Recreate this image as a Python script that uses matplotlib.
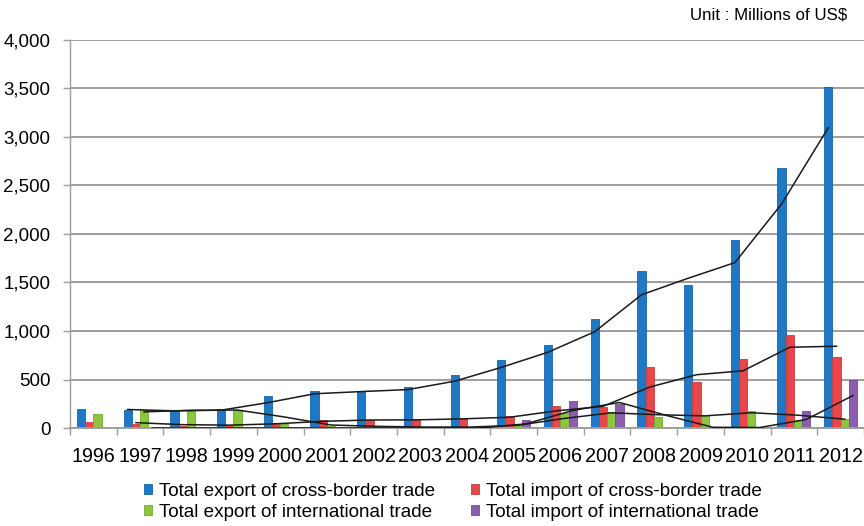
import matplotlib
matplotlib.use("Agg")
import matplotlib.pyplot as plt
from matplotlib.ticker import FuncFormatter, FixedLocator
import numpy as np
import pandas as pd

plt.rcParams['font.family'] = ['Liberation Sans', 'DejaVu Sans']

years = ['1996', '1997', '1998', '1999', '2000', '2001', '2002', '2003', '2004',
         '2005', '2006', '2007', '2008', '2009', '2010', '2011', '2012']

export_cross_border = [200, 182, 172, 196, 327, 379, 372, 420, 545,
                       705, 858, 1128, 1618, 1470, 1940, 2680, 3512]
import_cross_border = [65, 45, 24, 35, 52, 86, 79, 89, 100,
                       122, 231, 216, 628, 470, 710, 955, 731]
export_international = [148, 185, 180, 190, 38, 24, 10, 10, 10,
                        46, 152, 161, 113, 137, 178, 86, 96]
import_international = [0, 0, 0, 0, 0, 0, 0, 0, 0,
                        86, 275, 251, 10, 5, 5, 171, 498]

labels = ['Total export of cross-border trade',
          'Total import of cross-border trade',
          'Total export of international trade',
          'Total import of international trade']
series = [export_cross_border, import_cross_border,
          export_international, import_international]
colors = ['#1f78c4', '#e8464b', '#8cc63f', '#8c5fae']
edges = ['#1a64a6', '#c83a3e', '#73a834', '#744c92']

fig = plt.figure(figsize=(8.64, 5.26), dpi=100)
ax = fig.add_axes([0.081, 0.1863, 0.919, 0.7377])

x = np.arange(len(years))
bar_w = 0.176
handles = []
for i, (vals, c, ec, lab) in enumerate(zip(series, colors, edges, labels)):
    pos = x + (i - 1.5) * bar_w
    h = ax.bar(pos, vals, width=bar_w, color=c, edgecolor=ec, linewidth=0.6,
               label=lab, zorder=2)
    handles.append(h)
    # two-period moving average trendline
    ma = pd.Series(vals, dtype=float).rolling(2).mean()
    ax.plot(pos[1:], ma.values[1:], color='#1a1a1a', lw=1.1, zorder=3)

ax.set_xlim(-0.5, len(years) - 0.5)
ax.set_ylim(0, 4000)
ax.set_yticks(np.arange(0, 4001, 500))
ax.yaxis.set_major_formatter(FuncFormatter(lambda v, p: f'{int(v):,}'))
ax.yaxis.grid(True, color='#9e9e9e', lw=1.4, zorder=0)
ax.set_axisbelow(True)

ax.set_xticks(x)
ax.set_xticklabels(years)
ax.xaxis.set_minor_locator(FixedLocator(np.arange(-0.5, len(years), 1.0)))
ax.tick_params(axis='x', which='major', length=0, pad=14, labelsize=14.2)
ax.tick_params(axis='x', which='minor', length=5, width=1, color='#9e9e9e')
ax.tick_params(axis='y', length=5, width=1, color='#9e9e9e', pad=9,
               labelsize=13.5)

for s in ['top', 'right']:
    ax.spines[s].set_visible(False)
ax.spines['left'].set_color('#9e9e9e')
ax.spines['bottom'].set_color('#9e9e9e')
ax.spines['left'].set_linewidth(1.0)
ax.spines['bottom'].set_linewidth(1.4)

fig.text(0.981, 0.971, 'Unit : Millions of US$', ha='right', va='center',
         fontsize=12.2)

order = [0, 2, 1, 3]
leg = fig.legend([handles[k] for k in order], [labels[k] for k in order],
                 ncol=2, loc='center', bbox_to_anchor=(0.524, 0.046),
                 frameon=False, fontsize=13.6, handlelength=0.45,
                 handleheight=0.45, handletextpad=0.35, columnspacing=1.9,
                 labelspacing=0.2, borderpad=0)

fig.savefig('out.png', dpi=100)
